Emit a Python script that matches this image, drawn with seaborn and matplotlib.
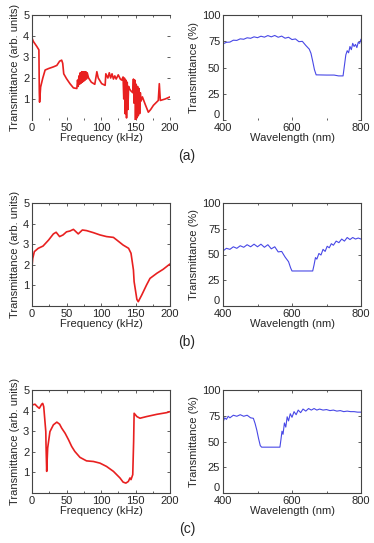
import numpy as np
import pandas as pd
import matplotlib
matplotlib.use("Agg")
import matplotlib.pyplot as plt
from matplotlib.ticker import MultipleLocator
import seaborn as sns

# ---------------- data ----------------
freq_a = [0, 2, 7, 10, 10.6, 11, 12.5, 15.5, 19, 24, 31, 36, 40, 43, 44.5, 46, 50, 55, 60, 65,
          66, 67, 68, 69, 70, 71, 72, 73, 74, 75, 76, 77, 78, 79, 80, 82, 86, 91, 94, 96, 101, 106,
          107, 110, 112, 114, 116, 118, 120, 122, 125, 128, 130, 132,
          133, 134, 135, 136, 137, 138, 139, 140, 141, 143, 146, 147, 148, 149,
          150, 151, 152, 153, 154, 155, 156, 157, 158, 160, 164, 168.6, 172, 176, 183, 184.5, 186, 193, 200]
trans_a = [3.9, 3.74, 3.5, 3.34, 1.33, 0.85, 1.57, 1.98, 2.38, 2.45, 2.53, 2.6, 2.8, 2.85, 2.7, 2.2, 1.97, 1.73, 1.53, 1.5,
           1.9, 1.6, 2.1, 1.7, 2.25, 1.75, 2.3, 1.8, 2.3, 1.85, 2.3, 1.9, 2.3, 1.95, 2.25, 2.0, 1.8, 1.7, 2.3, 2.0, 1.73, 1.65,
           2.2, 2.0, 2.25, 2.0, 2.2, 1.95, 2.1, 1.95, 2.15, 1.95, 1.9, 2.05,
           1.0, 2.0, 0.3, 1.9, 0.1, 1.8, 0.5, 1.6, 1.5, 1.4, 1.3, 1.95, 0.8, 1.9,
           0.0, 1.7, 0.1, 1.6, 0.2, 1.5, 0.3, 1.3, 0.9, 1.1, 0.75, 0.37, 0.5, 0.7, 0.93, 1.73, 0.93, 1.0, 1.1]

wl_a = [400, 410, 420, 430, 440, 450, 460, 470, 480, 490, 500, 510, 520, 530, 540, 550, 560, 570,
        580, 590, 600, 610, 620, 630, 640, 650, 655, 660, 665, 670, 700, 722, 735, 748,
        752, 756, 760, 764, 768, 772, 776, 780, 784, 788, 792, 796, 800]
pct_a = [72.5, 74.0, 74.2, 76.0, 75.8, 77.3, 76.9, 78.3, 77.8, 79.2, 78.4, 79.8, 78.9, 80.4, 79.2, 80.5, 78.8, 79.9,
         77.9, 78.8, 76.6, 77.2, 74.6, 74.9, 71.0, 67.5, 63.5, 56.0, 48.0, 43.0, 42.8, 42.8, 42.0, 42.0,
         52.0, 62.0, 66.0, 64.0, 70.0, 67.0, 73.0, 70.0, 72.0, 69.0, 74.0, 73.0, 77.0]

freq_b = [0, 1, 3.4, 9, 16, 24, 31, 35, 40, 45, 50, 55, 60, 62, 67, 73, 79, 89, 98.5, 108, 118, 123,
          132, 140, 143.5, 147, 148, 152, 154, 159, 166, 171, 181, 190, 198, 200]
trans_b = [1.9, 2.3, 2.64, 2.8, 2.91, 3.2, 3.5, 3.58, 3.37, 3.45, 3.6, 3.64, 3.72, 3.66, 3.5, 3.69, 3.66, 3.56,
           3.45, 3.37, 3.33, 3.2, 2.96, 2.8, 2.56, 1.75, 1.18, 0.32, 0.21, 0.53, 1.02, 1.34, 1.59, 1.78, 1.99, 2.04]

wl_b = [400, 410, 420, 430, 440, 450, 460, 470, 480, 490, 500, 510, 520, 530, 540, 550, 560, 570, 580, 590,
        596, 600, 660, 664, 668, 672, 678, 684, 690, 696, 702, 708, 714, 720, 728, 736, 744, 752, 760, 768,
        776, 784, 792, 800]
pct_b = [53.5, 56.0, 55.0, 57.5, 56.0, 58.5, 57.0, 59.5, 57.5, 60.0, 57.5, 60.0, 57.0, 59.5, 55.5, 57.5, 52.5, 53.0,
         47.5, 43.0, 37.0, 34.0, 34.0, 40.0, 47.0, 45.5, 51.0, 49.5, 55.0, 53.0, 58.0, 56.5, 60.5, 59.0, 63.0,
         61.5, 65.0, 63.0, 66.5, 64.5, 66.5, 65.0, 66.0, 65.0]

freq_c = [0, 4.3, 7.7, 10.6, 14, 15.5, 17, 20, 20.3, 21.3, 22.7, 26, 31, 36, 40, 43, 48, 53, 57.5, 62, 69.5,
          79, 89, 98.5, 108, 118, 127.5, 132, 136, 139.6, 142, 143.5, 146, 147.3, 148, 152, 156.5, 166,
          181, 195, 200]
trans_c = [4.27, 4.31, 4.19, 4.11, 4.31, 4.35, 4.19, 2.98, 2.37, 1.05, 2.18, 2.98, 3.31, 3.44, 3.34, 3.15, 2.9,
           2.58, 2.26, 2.02, 1.73, 1.56, 1.53, 1.45, 1.29, 1.05, 0.73, 0.53, 0.48, 0.56, 0.73, 0.65, 0.89,
           2.5, 3.87, 3.71, 3.63, 3.71, 3.82, 3.9, 3.95]

wl_c = [400, 405, 410, 415, 420, 430, 440, 450, 460, 470, 480, 488, 493, 498, 503, 508, 512, 565, 568, 571,
        574, 578, 582, 586, 590, 595, 600, 606, 612, 618, 625, 632, 640, 648, 656, 664, 672, 680, 690, 700,
        710, 720, 730, 740, 750, 760, 770, 780, 790, 800]
pct_c = [69.0, 73.0, 71.5, 74.5, 73.0, 75.5, 74.5, 76.0, 74.5, 75.5, 73.0, 72.5, 67.5, 61.0, 53.0, 46.0, 44.5,
         44.5, 52.0, 60.0, 57.0, 68.0, 64.0, 74.0, 70.0, 77.0, 73.5, 79.0, 76.0, 80.5, 78.0, 81.5, 79.5, 82.0,
         80.5, 82.0, 80.5, 81.5, 80.5, 81.0, 80.0, 80.5, 79.5, 80.0, 79.0, 79.5, 79.0, 79.0, 78.5, 78.5]

panel_labels = ["(a)", "(b)", "(c)"]

# ---------------- figure ----------------
sns.set_style("ticks")
plt.rcParams['font.family'] = ['Liberation Sans', 'DejaVu Sans']
plt.rcParams['font.size'] = 8

W, H = 374, 543
fig = plt.figure(figsize=(W / 100, H / 100), dpi=100)


def add_ax(left, right, top, bottom):
    return fig.add_axes([left / W, 1 - bottom / H, (right - left) / W, (bottom - top) / H])


RED = "#e82020"
BLUE = "#4848e6"

rows = [(15, 120), (203, 306), (390, 493)]
freqs = [freq_a, freq_b, freq_c]
trans = [trans_a, trans_b, trans_c]
wls = [wl_a, wl_b, wl_c]
pcts = [pct_a, pct_b, pct_c]

for i, (top, bottom) in enumerate(rows):
    axL = add_ax(32, 170, top, bottom)
    axR = add_ax(223, 361, top, bottom)

    dfL = pd.DataFrame({"f": freqs[i], "t": trans[i]})
    sns.lineplot(data=dfL, x="f", y="t", ax=axL, color=RED, lw=1.2, sort=False, estimator=None)
    dfR = pd.DataFrame({"w": wls[i], "p": pcts[i]})
    sns.lineplot(data=dfR, x="w", y="p", ax=axR, color=BLUE, lw=0.8, sort=False, estimator=None)

    axL.set_xlim(0, 200)
    axL.set_ylim(0, 5)
    axL.set_xticks([0, 50, 100, 150, 200])
    axL.set_yticks([1, 2, 3, 4, 5])
    axL.xaxis.set_minor_locator(MultipleLocator(25))
    axL.set_xlabel("Frequency (kHz)", labelpad=0)
    axL.set_ylabel("Transmittance (arb. units)", labelpad=2)

    axR.set_xlim(400, 800)
    axR.set_ylim(0, 100)
    axR.set_xticks([400, 600, 800])
    axR.set_yticks([0, 25, 50, 75, 100])
    axR.xaxis.set_minor_locator(MultipleLocator(100))
    axR.set_xlabel("Wavelength (nm)", labelpad=0)
    axR.set_ylabel("Transmittance (%)", labelpad=2)

    for ax in (axL, axR):
        ax.tick_params(which="both", direction="in", top=True, right=True,
                       labelsize=8, pad=2, width=0.6, color="#444444")
        ax.tick_params(which="major", length=2.5)
        ax.tick_params(which="minor", length=1.5)
        for s in ax.spines.values():
            s.set_linewidth(0.8)
            s.set_color("#444444")

    # the "0" of the right panels sits just above the corner, as in the reference
    fig.canvas.draw()
    ylabs = axR.get_yticklabels()
    ylabs[0].set_verticalalignment("bottom")

    if i == 0:
        axL.spines["right"].set_visible(False)
        axL.spines["bottom"].set_visible(False)
        axR.spines["bottom"].set_visible(False)

    fig.text(187 / W, 1 - (bottom + 36) / H, panel_labels[i], ha="center", va="center", fontsize=10)

fig.savefig("out.png", dpi=100)
